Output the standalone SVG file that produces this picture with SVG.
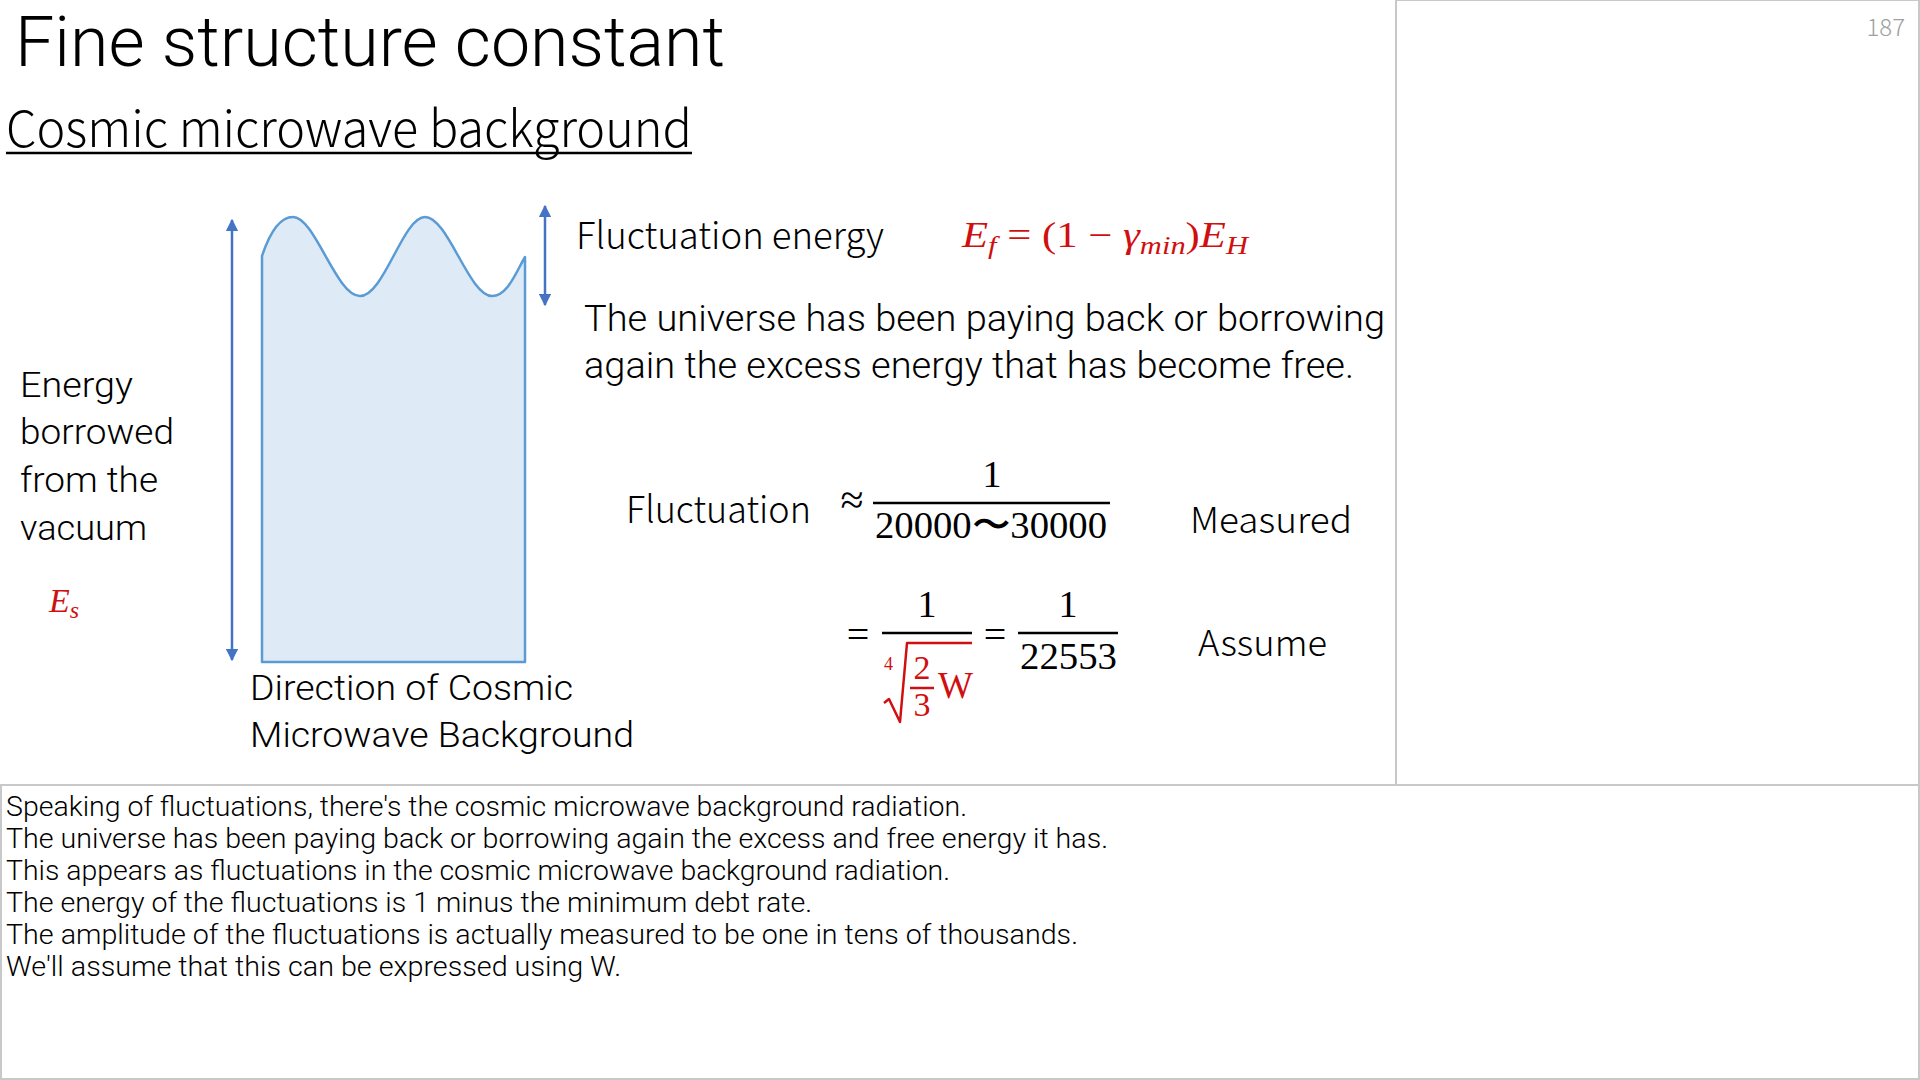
<svg xmlns="http://www.w3.org/2000/svg" width="1920" height="1080" viewBox="0 0 1920 1080">
<style>
.t{font-family:"Noto Sans CJK JP","Noto Sans",sans-serif;font-weight:300;fill:#000}
.ro{font-family:Roboto,"Liberation Sans",sans-serif;font-weight:300;fill:#000}
.m{font-family:"Liberation Serif","DejaVu Serif",serif;fill:#000}
.r{fill:#d01010}
.i{font-style:italic}
.frame{fill:none;stroke:#c8c8c8;stroke-width:2}
.bar{stroke:#000;stroke-width:2.5}
.arr{stroke:#4472c4;stroke-width:2.5;fill:none}
</style>
<defs>
<marker id="ah" viewBox="0 0 10 10" refX="9" refY="5" markerWidth="5" markerHeight="5" orient="auto-start-reverse" markerUnits="strokeWidth">
<path d="M0,0 L10,5 L0,10 Z" fill="#4472c4"/>
</marker>
</defs>
<rect width="1920" height="1080" fill="#fff"/>
<g id="frames">
<rect class="frame" x="1396" y="0" width="523" height="785"/>
<rect class="frame" x="1" y="785" width="1918" height="294"/>
</g>
<g id="title">
<text class="ro" x="15" y="66" font-size="70" textLength="710" lengthAdjust="spacingAndGlyphs">Fine structure constant</text>
</g>
<g id="subtitle">
<text class="t" x="6" y="147" font-size="50" textLength="686" lengthAdjust="spacingAndGlyphs">Cosmic microwave background</text>
<line x1="6" y1="153" x2="692" y2="153" stroke="#000" stroke-width="2.5"/>
</g>
<g id="page-number">
<text class="t" x="1905" y="36" font-size="24" style="fill:#a0a0a0" text-anchor="end">187</text>
</g>
<g id="cmb-shape">
<path d="M262,662 L262,256 C268,238 278,217 293,217 C315,217 336,296 360,296 C384,296 403,217 425,217 C448,217 469,296 492,296 C508,296 517,270 525,257 L525,662 Z" fill="#deebf7" stroke="#5b9bd5" stroke-width="2.5" stroke-linejoin="round"/>
</g>
<g id="connectors">
<line class="arr" x1="232" y1="220" x2="232" y2="660" marker-start="url(#ah)" marker-end="url(#ah)"/>
<line class="arr" x1="545" y1="206" x2="545" y2="305" marker-start="url(#ah)" marker-end="url(#ah)"/>
</g>
<g id="label-energy-borrowed">
<text class="ro" font-size="35" x="20" y="397" textLength="113" lengthAdjust="spacingAndGlyphs">Energy</text>
<text class="ro" font-size="35" x="20" y="444" textLength="154" lengthAdjust="spacingAndGlyphs">borrowed</text>
<text class="ro" font-size="35" x="20" y="492" textLength="138" lengthAdjust="spacingAndGlyphs">from the</text>
<text class="ro" font-size="35" x="20" y="540" textLength="127" lengthAdjust="spacingAndGlyphs">vacuum</text>
<text class="m r i" x="49" y="612" font-size="34">E<tspan font-size="24" dy="6">s</tspan></text>
</g>
<g id="label-direction">
<text class="ro" font-size="35" x="250" y="700" textLength="323" lengthAdjust="spacingAndGlyphs">Direction of Cosmic</text>
<text class="ro" font-size="35" x="250" y="747" textLength="384" lengthAdjust="spacingAndGlyphs">Microwave Background</text>
</g>
<g id="label-fluct-energy">
<text class="t" font-size="37" x="576" y="249" textLength="308" lengthAdjust="spacingAndGlyphs">Fluctuation energy</text>
<text class="m r" x="962" y="247" font-size="35" textLength="286" lengthAdjust="spacingAndGlyphs"><tspan class="i">E</tspan><tspan class="i" font-size="25" dy="7">f</tspan><tspan dy="-7"> = (1 − </tspan><tspan class="i">γ</tspan><tspan class="i" font-size="25" dy="7">min</tspan><tspan dy="-7">)</tspan><tspan class="i">E</tspan><tspan class="i" font-size="25" dy="7">H</tspan></text>
</g>
<g id="label-universe">
<text class="ro" font-size="37" x="584" y="331" textLength="801" lengthAdjust="spacingAndGlyphs">The universe has been paying back or borrowing</text>
<text class="ro" font-size="37" x="584" y="378" textLength="770" lengthAdjust="spacingAndGlyphs">again the excess energy that has become free.</text>
</g>
<g id="eq-measured">
<text class="t" font-size="37" x="626" y="523" textLength="185" lengthAdjust="spacingAndGlyphs">Fluctuation</text>
<text class="m" font-size="42" x="852" y="514" text-anchor="middle">≈</text>
<text class="m" font-size="38" x="992" y="487" text-anchor="middle">1</text>
<line class="bar" x1="873" y1="503" x2="1110" y2="503"/>
<text class="m" font-size="38" x="875" y="538" textLength="232" lengthAdjust="spacingAndGlyphs">20000〜30000</text>
<text class="t" font-size="36" x="1190" y="533" textLength="162" lengthAdjust="spacingAndGlyphs">Measured</text>
</g>
<g id="eq-assume">
<text class="m" font-size="40" x="858" y="648" text-anchor="middle">=</text>
<text class="m" font-size="38" x="927" y="617" text-anchor="middle">1</text>
<line class="bar" x1="882" y1="633" x2="972" y2="633"/>
<text class="m r" font-size="18" x="884" y="670">4</text>
<path d="M884,703 L889,699 L900,722 L907,643 L972,643" fill="none" stroke="#d01010" stroke-width="2.5" stroke-linejoin="round"/>
<text class="m r" font-size="34" x="922" y="679" text-anchor="middle">2</text>
<line x1="910" y1="688" x2="934" y2="688" stroke="#d01010" stroke-width="2.5"/>
<text class="m r" font-size="34" x="922" y="716" text-anchor="middle">3</text>
<text class="m r" font-size="38" x="938" y="698" textLength="35" lengthAdjust="spacingAndGlyphs">W</text>
<text class="m" font-size="40" x="995" y="648" text-anchor="middle">=</text>
<text class="m" font-size="38" x="1068" y="617" text-anchor="middle">1</text>
<line class="bar" x1="1018" y1="633" x2="1118" y2="633"/>
<text class="m" font-size="38" x="1020" y="669" textLength="97" lengthAdjust="spacingAndGlyphs">22553</text>
<text class="t" font-size="36" x="1198" y="656" textLength="129" lengthAdjust="spacingAndGlyphs">Assume</text>
</g>
<g id="notes">
<text class="ro" font-size="27" x="6" y="816" textLength="961" lengthAdjust="spacingAndGlyphs">Speaking of fluctuations, there's the cosmic microwave background radiation.</text>
<text class="ro" font-size="27" x="6" y="848" textLength="1102" lengthAdjust="spacingAndGlyphs">The universe has been paying back or borrowing again the excess and free energy it has.</text>
<text class="ro" font-size="27" x="6" y="880" textLength="944" lengthAdjust="spacingAndGlyphs">This appears as fluctuations in the cosmic microwave background radiation.</text>
<text class="ro" font-size="27" x="6" y="912" textLength="806" lengthAdjust="spacingAndGlyphs">The energy of the fluctuations is 1 minus the minimum debt rate.</text>
<text class="ro" font-size="27" x="6" y="944" textLength="1072" lengthAdjust="spacingAndGlyphs">The amplitude of the fluctuations is actually measured to be one in tens of thousands.</text>
<text class="ro" font-size="27" x="6" y="976" textLength="615" lengthAdjust="spacingAndGlyphs">We'll assume that this can be expressed using W.</text>
</g>
</svg>
